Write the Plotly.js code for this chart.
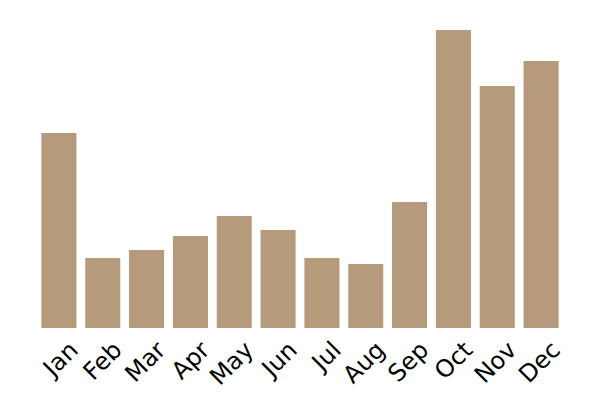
<!DOCTYPE html>
<html>
<head>
<meta charset="utf-8">
<script src="https://cdn.plot.ly/plotly-3.0.1.min.js"></script>
<style>
  html, body { margin: 0; padding: 0; background: #fff; }
  #chart { width: 600px; height: 400px; }
</style>
</head>
<body>
<div id="chart"></div>
<script>
const months = ['Jan', 'Feb', 'Mar', 'Apr', 'May', 'Jun', 'Jul', 'Aug', 'Sep', 'Oct', 'Nov', 'Dec'];
const values = [195, 70, 78, 92, 112, 98, 70, 64, 126, 298, 242, 267];

const trace = {
    type: 'bar',
    x: months,
    y: values,
    marker: { color: '#b59b7c' },
    hoverinfo: 'x+y'
};

const layout = {
    width: 600,
    height: 400,
    margin: { l: 37, r: 37, t: 30, b: 72 },
    bargap: 0.2,
    showlegend: false,
    paper_bgcolor: '#fff',
    plot_bgcolor: '#fff',
    font: { family: 'DejaVu Sans, sans-serif', size: 24, color: '#000' },
    xaxis: {
        tickangle: -45,
        tickfont: { size: 24 },
        ticklabelshift: 12,
        ticklabelstandoff: 2,
        showline: false,
        showgrid: false,
        zeroline: false,
        ticks: '',
        automargin: false
    },
    yaxis: {
        visible: false,
        range: [0, Math.max(...values)]
    }
};

Plotly.newPlot('chart', [trace], layout, { displayModeBar: false, staticPlot: true });
</script>
</body>
</html>
